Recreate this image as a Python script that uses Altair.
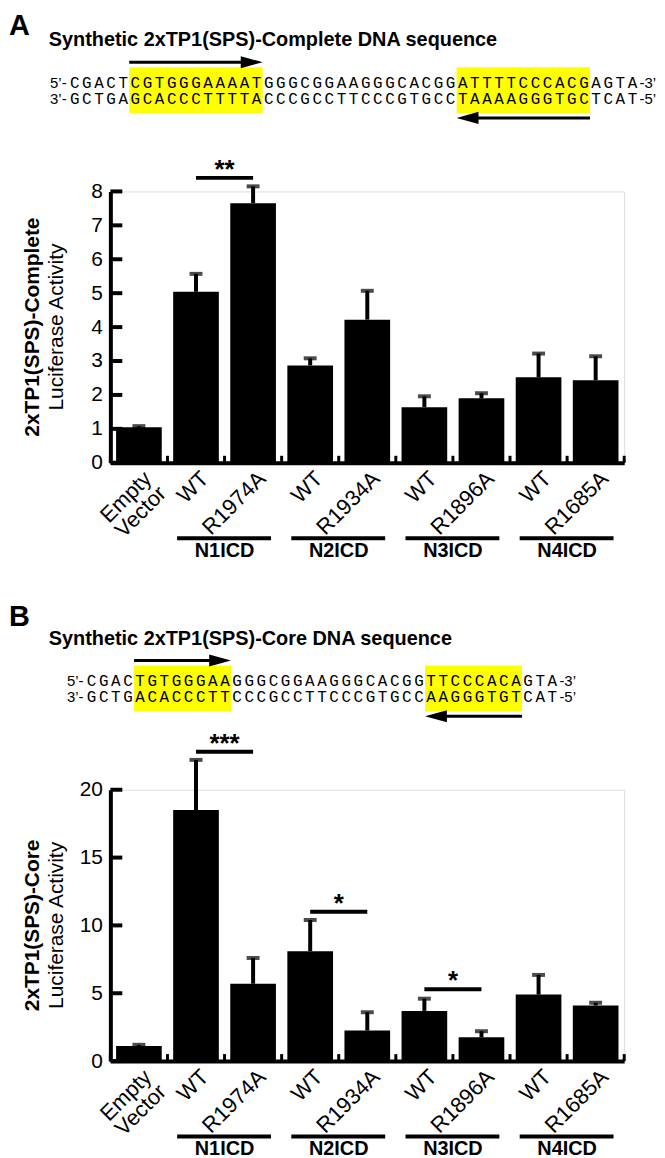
import altair as alt
import pandas as pd

# ---------------- data ----------------
categories = ["Empty Vector", "N1 WT", "R1974A", "N2 WT", "R1934A",
              "N3 WT", "R1896A", "N4 WT", "R1685A"]
groups = ["N1ICD", "N2ICD", "N3ICD", "N4ICD"]
group_first = ["N1 WT", "N2 WT", "N3 WT", "N4 WT"]
group_last = ["R1974A", "R1934A", "R1896A", "R1685A"]

# Panel A: 2xTP1(SPS)-Complete
a_mean = [1.05, 5.04, 7.65, 2.87, 4.22, 1.64, 1.90, 2.52, 2.43]
a_upper = [1.08, 5.57, 8.15, 3.08, 5.07, 1.96, 2.05, 3.22, 3.14]
a_ticks = [0, 1, 2, 3, 4, 5, 6, 7, 8]
a_sig_from = ["N1 WT"]
a_sig_to = ["R1974A"]
a_sig_y = [8.4]
a_sig_label = ["**"]
a_title = "Synthetic 2xTP1(SPS)-Complete DNA sequence"
a_top_parts = ["CGACT", "CGTGGGAAAAT", "GGGCGGAAGGGCACGG", "ATTTTCCCACG", "AGTA"]
a_bot_parts = ["GCTGA", "GCACCCTTTTA", "CCCGCCTTCCCGTGCC", "TAAAAGGGTGC", "TCAT"]
a_ytitle = "2xTP1(SPS)-Complete"

# Panel B: 2xTP1(SPS)-Core
b_mean = [1.12, 18.5, 5.7, 8.1, 2.25, 3.7, 1.75, 4.9, 4.1]
b_upper = [1.2, 22.2, 7.6, 10.4, 3.6, 4.6, 2.2, 6.35, 4.3]
b_ticks = [0, 5, 10, 15, 20]
b_sig_from = ["N1 WT", "N2 WT", "N3 WT"]
b_sig_to = ["R1974A", "R1934A", "R1896A"]
b_sig_y = [22.8, 11.0, 5.3]
b_sig_label = ["***", "*", "*"]
b_title = "Synthetic 2xTP1(SPS)-Core DNA sequence"
b_top_parts = ["CGAC", "TGTGGGAA", "GGGCGGAAGGGCACGG", "TTCCCACA", "GTA"]
b_bot_parts = ["GCTG", "ACACCCTT", "CCCGCCTTCCCGTGCC", "AAGGGTGT", "CAT"]
b_ytitle = "2xTP1(SPS)-Core"

ytitle_2 = "Luciferase Activity"

# ---------------- style ----------------
W, H = 517, 273
STEP = W / 9
CHAR_W = 12.2
FONT = "Liberation Sans"
MONO = "Liberation Mono"
YELLOW = "#ffff00"
ROW1, ROW2 = -109, -93

LABEL_EXPR = ("datum.value == 'Empty Vector' ? ['Empty', 'Vector'] : "
              "(indexof(datum.value, 'WT') >= 0 ? 'WT' : datum.value)")


def panel(letter, letter_y, title, top_parts, bot_parts, seq_x0, ytitle,
          mean, upper, ymax, ticks, sf, st, sy, sl):
    xs = alt.Scale(domain=categories, paddingInner=0.2, paddingOuter=0.1)
    ys = alt.Scale(domain=[0, ymax], nice=False, zero=True)
    xaxis = alt.Axis(title=None, domain=True, domainColor="black", domainWidth=4,
                     ticks=False, tickSize=0, grid=False, labelAngle=315,
                     labelAlign="right", labelBaseline="middle", labelFontSize=22,
                     labelPadding=12, labelOffset=9, labelExpr=LABEL_EXPR,
                     labelLineHeight=21, labelColor="black", labelOverlap=False,
                     labelFont=FONT)
    yaxis = alt.Axis(title=None, values=ticks, domain=True, domainColor="black",
                     domainWidth=4, ticks=False, tickSize=0, grid=False,
                     labelFontSize=21, labelPadding=8, labelColor="black",
                     labelFont=FONT)

    def X(f):
        return alt.X(f, scale=xs, axis=xaxis)

    def Y(f):
        return alt.Y(f, scale=ys, axis=yaxis)

    df = pd.DataFrame({"cat": categories, "mean": mean, "upper": upper})
    bars = alt.Chart(df).mark_bar(color="black").encode(x=X("cat:N"), y=Y("mean:Q"))
    err = alt.Chart(df).mark_rule(color="black", strokeWidth=4).encode(
        x=X("cat:N"), y=Y("mean:Q"), y2="upper:Q")
    caps = alt.Chart(df).mark_tick(color="black", thickness=4, size=13).encode(
        x=X("cat:N"), y=Y("upper:Q"))

    tdf = pd.DataFrame({"v": ticks})
    yt = alt.Chart(tdf).mark_rule(color="black", strokeWidth=4).encode(
        y=Y("v:Q"), x=alt.value(0), x2=alt.value(12))

    bdf = pd.DataFrame({"cat": categories})
    bt = alt.Chart(bdf).mark_rule(color="black", strokeWidth=3, xOffset=-STEP / 2).encode(
        x=X("cat:N"), y=alt.value(H), y2=alt.value(H - 7))
    edf = pd.DataFrame({"cat": categories[-1:]})
    et = alt.Chart(edf).mark_rule(color="black", strokeWidth=3, xOffset=STEP / 2).encode(
        x=X("cat:N"), y=alt.value(H), y2=alt.value(H - 7))

    sdf = pd.DataFrame({"cat": sf, "cat2": st, "y": sy, "s": sl})
    sig = alt.Chart(sdf).mark_rule(color="black", strokeWidth=4).encode(
        x=X("cat:N"), x2="cat2:N", y=Y("y:Q"))
    stars = alt.Chart(sdf).mark_text(
        font=FONT, fontSize=26, fontWeight="bold", baseline="alphabetic",
        align="center", dy=0, xOffset=STEP / 2, color="black").encode(
        x=X("cat:N"), y=Y("y:Q"), text="s:N")

    gdf = pd.DataFrame({"cat": group_first, "cat2": group_last, "g": groups})
    gl = alt.Chart(gdf).mark_rule(color="black", strokeWidth=4, xOffset=-19,
                                  x2Offset=18).encode(
        x=X("cat:N"), x2="cat2:N", y=alt.value(H + 76))
    gt = alt.Chart(gdf).mark_text(font=FONT, fontSize=20, fontWeight="bold",
                                  baseline="middle", align="center",
                                  xOffset=STEP / 2, color="black").encode(
        x=X("cat:N"), y=alt.value(H + 89), text="g:N")

    bar_layer = alt.layer(bars, err, caps, yt, bt, et, sig, stars, gl, gt)

    # ---- sequence block ----
    top = "".join(top_parts)
    bot = "".join(bot_parts)
    n = len(top)
    cs = alt.Scale(domain=[0, n], range=[seq_x0, seq_x0 + CHAR_W * n])

    def CX(f):
        return alt.X(f, scale=cs, axis=None)

    lens = [len(p) for p in top_parts]
    s1 = lens[0]
    e1 = s1 + lens[1]
    s2 = e1 + lens[2]
    e2 = s2 + lens[3]
    hdf = pd.DataFrame({"s": [s1, s2], "e": [e1, e2]})
    hl = alt.Chart(hdf).mark_rect(color=YELLOW).encode(
        x=CX("s:Q"), x2="e:Q", y=alt.value(-125), y2=alt.value(-79))

    ctop = pd.DataFrame({"c": [i + 0.5 for i in range(n)], "ch": list(top)})
    cbot = pd.DataFrame({"c": [i + 0.5 for i in range(n)], "ch": list(bot)})
    t1 = alt.Chart(ctop).mark_text(font=MONO, fontSize=16, baseline="middle",
                                   align="center", color="black").encode(
        x=CX("c:Q"), y=alt.value(ROW1), text="ch:N")
    t2 = alt.Chart(cbot).mark_text(font=MONO, fontSize=16, baseline="middle",
                                   align="center", color="black").encode(
        x=CX("c:Q"), y=alt.value(ROW2), text="ch:N")

    def end_text(pos, txt, row, align, dx):
        return alt.Chart(pd.DataFrame({"p": [pos], "t": [txt]})).mark_text(
            font=FONT, fontSize=15, align=align, baseline="middle", dx=dx,
            color="black").encode(x=CX("p:Q"), y=alt.value(row), text="t:N")

    p1 = end_text(0, "5\u2019-", ROW1, "right", -2)
    p2 = end_text(0, "3\u2019-", ROW2, "right", -2)
    q1 = end_text(n, "-3\u2019", ROW1, "left", 1)
    q2 = end_text(n, "-5\u2019", ROW2, "left", 1)

    adf1 = pd.DataFrame({"s": [s1], "e": [e1]})
    adf2 = pd.DataFrame({"s": [s2], "e": [e2]})
    a1 = alt.Chart(adf1).mark_rule(color="black", strokeWidth=3, x2Offset=-14).encode(
        x=CX("s:Q"), x2="e:Q", y=alt.value(-130))
    h1 = alt.Chart(adf1).mark_point(shape="M-1,-0.55L1,0L-1,0.55Z", size=484,
                                    filled=True, color="black", opacity=1,
                                    strokeWidth=0, xOffset=-11).encode(
        x=CX("e:Q"), y=alt.value(-130))
    a2 = alt.Chart(adf2).mark_rule(color="black", strokeWidth=3, xOffset=14).encode(
        x=CX("s:Q"), x2="e:Q", y=alt.value(-74))
    h2 = alt.Chart(adf2).mark_point(shape="M1,-0.55L-1,0L1,0.55Z", size=484,
                                    filled=True, color="black", opacity=1,
                                    strokeWidth=0, xOffset=11).encode(
        x=CX("s:Q"), y=alt.value(-74))

    seq_layer = alt.layer(hl, t1, t2, p1, p2, q1, q2, a1, h1, a2, h2)

    # ---- headers & y titles ----
    lt = alt.Chart(pd.DataFrame({"t": [letter]})).mark_text(
        font=FONT, fontSize=29, fontWeight="bold", align="left", baseline="middle",
        color="black").encode(x=alt.value(-102), y=alt.value(letter_y), text="t:N")
    tt = alt.Chart(pd.DataFrame({"t": [title]})).mark_text(
        font=FONT, fontSize=20, fontWeight="bold", align="left", baseline="middle",
        color="black").encode(x=alt.value(-62), y=alt.value(-152), text="t:N")
    yt1 = alt.Chart(pd.DataFrame({"t": [ytitle]})).mark_text(
        font=FONT, fontSize=21, fontWeight="bold", align="center", baseline="middle",
        angle=270, color="black").encode(x=alt.value(-78), y=alt.value(H / 2), text="t:N")
    yt2 = alt.Chart(pd.DataFrame({"t": [ytitle_2]})).mark_text(
        font=FONT, fontSize=21, align="center", baseline="middle",
        angle=270, color="black").encode(x=alt.value(-54), y=alt.value(H / 2), text="t:N")

    return alt.layer(bar_layer, seq_layer, lt, tt, yt1, yt2).resolve_scale(
        x="independent").properties(width=W, height=H)


panel_a = panel("A", -166, a_title, a_top_parts, a_bot_parts, -42, a_ytitle,
                a_mean, a_upper, 8, a_ticks, a_sig_from, a_sig_to, a_sig_y, a_sig_label)
panel_b = panel("B", -174, b_title, b_top_parts, b_bot_parts, -25, b_ytitle,
                b_mean, b_upper, 20, b_ticks, b_sig_from, b_sig_to, b_sig_y, b_sig_label)

chart = alt.vconcat(panel_a, panel_b, spacing=40).properties(
    padding=0, background="white"
).configure_view(stroke=None).configure(font=FONT)

chart.save("out.html", embed_options={"renderer": "svg", "actions": False})
